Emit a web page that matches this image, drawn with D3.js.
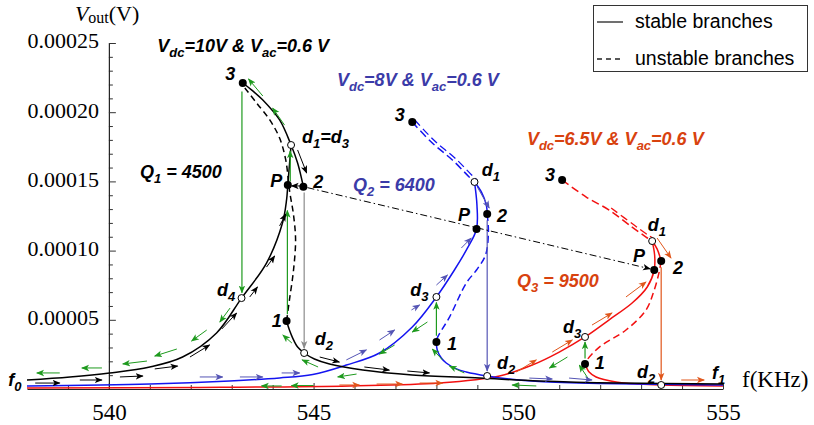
<!DOCTYPE html>
<html><head><meta charset="utf-8">
<script src="https://cdn.jsdelivr.net/npm/d3@7"></script>
<style>body{margin:0;background:#fff}svg{display:block}</style>
</head><body>
<svg id="c" width="814" height="425"></svg>
<script>
// ---------------- DATA (V in units of 1e-5 V, f in kHz) ----------------
const xTicksMajor = [540, 545, 550, 555];
const xTicksMinor = [539, 541, 542, 543, 544, 546, 547, 548, 549, 551, 552, 553, 554];
const yTicksMajor = [5, 10, 15, 20, 25];
const yTicksMinor = [1,2,3,4,6,7,8,9,11,12,13,14,16,17,18,19,21,22,23,24];

// black (Vdc=10V)
const blackRise = [[538.00,0.65],[539.05,0.87],[540.02,1.16],[541.00,1.59],[541.80,2.31],[542.63,4.05],[543.24,6.57],[543.85,9.10],[544.24,11.99],[544.34,13.66],[544.37,14.74],[544.41,16.18],[544.45,17.63]];
const blackStableTop = [[543.27,22.11],[543.49,21.60],[543.76,20.88],[544.17,19.44],[544.45,17.63],[544.61,16.33],[544.75,14.62]];
const blackUnstable = [[543.32,21.75],[543.61,20.66],[543.93,19.44],[544.17,18.13],[544.32,16.55],[544.41,14.38],[544.51,12.57],[544.56,10.77],[544.51,8.60],[544.41,6.43],[544.34,4.91]];
const blackLower = [[544.34,4.91],[544.41,4.26],[544.49,3.68],[544.61,3.03],[544.77,2.60],[545.02,2.17],[545.39,1.81],[546.20,1.37],[547.41,1.01],[549.05,0.79],[550.51,0.58],[552.46,0.43],[555.00,0.36]];
// blue (Vdc=8V)
const blueRise = [[538.00,0.22],[541.00,0.36],[542.95,0.58],[544.17,0.80],[544.98,1.05],[545.80,1.73],[546.61,2.60],[547.41,4.48],[548.00,6.65],[548.44,8.60],[548.76,10.19],[548.98,11.56],[548.99,13.29],[548.93,14.96]];
const blueUnstableTop = [[547.41,19.29],[547.90,17.77],[548.39,16.55],[548.80,15.32],[548.93,14.96]];
const blueStableTop = [[548.93,14.96],[549.10,14.23],[549.22,13.29],[549.24,12.64]];
const blueUnstable = [[549.24,12.64],[549.27,11.34],[549.20,9.68],[548.98,8.60],[548.73,7.66],[548.32,5.20],[548.02,3.68],[548.00,3.40]];
const blueLower = [[548.00,3.40],[548.02,2.82],[548.12,2.24],[548.24,1.88],[548.49,1.45],[548.73,1.23],[549.24,0.94],[549.78,0.72],[550.51,0.54],[551.98,0.40],[555.00,0.29]];
// red (Vdc=6.5V)
const redRise = [[538.00,0.07],[542.22,0.11],[545.88,0.22],[548.07,0.43],[549.54,0.94],[550.34,1.73],[551.00,2.67],[551.63,3.76],[552.22,5.00],[552.78,6.21],[553.15,7.37],[553.32,8.60],[553.33,9.68],[553.27,10.69]];
const redUnstableTop = [[551.07,15.10],[551.66,13.87],[552.22,12.93],[552.78,11.70],[553.12,10.98],[553.27,10.69]];
const redStableTop = [[553.27,10.69],[553.39,10.12],[553.49,9.25]];
const redUnstable = [[553.49,9.25],[553.44,8.45],[553.32,7.15],[553.12,5.71],[552.63,4.26],[551.98,3.03],[551.68,2.10],[551.63,1.81]];
const redLower = [[551.63,1.81],[551.73,1.23],[551.90,0.87],[552.39,0.51],[552.95,0.36],[553.49,0.29],[555.00,0.22]];

// marked points
const filledPoints = [[543.27,22.11],[544.37,14.74],[544.75,14.62],[544.34,4.91],
  [547.41,19.29],[548.98,11.56],[549.24,12.64],[548.00,3.40],
  [551.07,15.10],[553.32,8.60],[553.49,9.25],[551.63,1.81]];
const openPoints = [[544.45,17.63],[543.24,6.57],[544.77,2.60],
  [548.93,14.96],[548.00,6.65],[549.24,0.94],
  [553.27,10.69],[551.63,3.76],[553.49,0.29]];

// jumps: [f, vFrom, vTo]
const jumpsGreen = [[543.25,21.5,6.95],[544.36,5.4,12.9],[544.43,15.0,17.2],[548.00,3.85,6.25],[551.63,2.2,3.4]];
const jumpsGray = [[544.77,14.2,2.95]];
const jumpsBlue = [[549.24,12.2,1.3]];
const jumpsRed = [[553.49,8.8,0.65]];
const pathLine = [[544.85,14.55],[553.22,8.68]];

// sweep arrows [f1,v1,f2,v2]
const arrowsBlack = [[538.20,0.43,538.80,0.43],[539.29,0.65,539.83,0.65],[540.27,0.87,540.83,0.94],[541.12,1.45,541.68,1.66],
  [541.98,2.31,542.46,3.18],[542.76,4.34,543.12,5.49],[543.44,6.65,543.63,7.37],[543.85,8.81,544.05,9.61],[544.17,11.78,544.32,12.64],
  [544.61,17.27,544.83,15.61],[544.68,14.67,544.46,14.67],[545.15,2.31,545.63,1.95],[546.24,1.59,546.85,1.37],[547.29,1.30,547.83,1.16]];
const arrowsGreen = [[538.80,1.16,538.24,1.16],[539.83,1.52,539.34,1.52],[540.93,2.02,540.34,1.81],[541.66,2.89,541.12,2.38],
  [542.39,4.26,542.02,3.47],[542.96,5.85,542.71,4.84],[543.76,21.17,543.41,22.40],[544.29,19.07,544.00,20.30],
  [544.47,3.32,544.25,3.90],[545.11,1.59,544.72,2.10],[544.22,0.22,543.73,0.22],[545.00,0.25,544.46,0.25],[550.44,0.22,549.85,0.29],
  [547.78,4.84,547.41,4.12],[546.98,3.18,546.61,2.53],[546.05,1.08,545.59,0.87],[548.15,2.10,547.90,2.89],[548.68,1.16,548.32,1.66],
  [551.20,2.31,550.76,1.52],[551.73,0.65,551.49,1.73]];
const arrowsBlue = [[542.22,0.87,542.78,0.87],[543.20,0.87,543.76,0.87],[544.22,1.16,544.66,1.16],[545.80,2.10,546.29,2.82],
  [546.61,3.54,546.98,4.26],[547.39,5.71,547.59,6.07],[548.00,7.51,548.27,8.24],[548.61,10.19,548.85,10.91],
  [549.00,14.59,549.29,13.08],[550.27,0.79,550.83,0.72],[551.24,0.79,551.80,0.65]];
const arrowsRed = [[545.63,0.29,546.12,0.29],[546.54,0.36,547.17,0.36],[547.59,0.43,548.15,0.43],[549.95,1.23,550.44,2.10],
  [550.83,2.67,551.32,3.54],[551.80,4.62,552.29,5.49],[552.63,6.65,553.12,7.73],[553.39,10.91,553.73,9.46],[553.98,0.65,554.54,0.65]];

// labels [text, f, v]
const labelsBlack = [["3",542.84,22.33],["d_{1}=d_{3}",544.72,17.77],["P",543.94,14.59],["2",544.99,14.52],["d_{4}",542.64,6.72],
  ["1",543.98,4.48],["d_{2}",545.03,3.18],["f_{0}",537.54,0.22],
  ["3",546.98,19.4],["d_{1}",549.11,15.39],["P",548.53,12.14],["2",549.48,12.07],["d_{3}",547.36,6.72],["1",548.26,2.82],["d_{2}",549.48,1.45],
  ["3",550.65,15.03],["d_{1}",553.16,11.42],["P",552.80,9.18],["2",553.78,8.31],["d_{3}",551.09,4.05],["1",551.87,1.45],["d_{2}",552.90,0.79],["f_{1}",554.73,0.72]];
const titles = [["V_{dc}=10V & V_{ac}=0.6 V",541.18,24.35,"k"],["V_{dc}=8V & V_{ac}=0.6 V",545.57,21.89,"b"],["V_{dc}=6.5V & V_{ac}=0.6 V",550.21,17.63,"r"],
  ["Q_{1} = 4500",540.76,15.24,"k"],["Q_{2} = 6400",545.96,14.31,"b"],["Q_{3} = 9500",549.97,7.37,"r"]];
const legendItems = ["stable branches","unstable branches"];

// ---------------- DRAWING ----------------
const svg = d3.select("#c");
const x = d3.scaleLinear().domain([538, 555]).range([27, 723]);
const y = d3.scaleLinear().domain([0, 25]).range([389, 43]);
const C = {k:"#000", blue:"#1414f0", red:"#f21010", green:"#1e9a1e", gray:"#8c8c8c", slate:"#5555b5", orange:"#e0561b",
  tb:"#3b3ba8", tr:"#d8420f"};
const titleColor = {k:"#000", b:C.tb, r:C.tr};
const fontS = "'Liberation Serif','Times New Roman',Times,serif";
const fontA = "'Liberation Sans',Arial,Helvetica,sans-serif";

const defs = svg.append("defs");
function marker(id, color, size) {
  defs.append("marker").attr("id", id).attr("viewBox", "0 0 10 10").attr("refX", 9).attr("refY", 5)
    .attr("markerUnits", "userSpaceOnUse").attr("markerWidth", size).attr("markerHeight", size).attr("orient", "auto")
    .append("path").attr("d", "M0,1 L10,5 L0,9 L2.5,5 Z").attr("fill", color);
}
marker("mk", C.k, 8); marker("mg", C.green, 8); marker("mgr", C.gray, 8); marker("mb", C.slate, 8); marker("mo", C.orange, 8);

// axes
const gxMinor = svg.append("g").attr("transform", `translate(0,${y(0)})`)
  .call(d3.axisBottom(x).tickValues(xTicksMinor).tickSizeInner(-4).tickSizeOuter(0).tickFormat(""));
gxMinor.select(".domain").remove();
const gx = svg.append("g").attr("transform", `translate(0,${y(0)})`)
  .call(d3.axisBottom(x).tickValues(xTicksMajor).tickSizeInner(-6).tickSizeOuter(0).tickPadding(15));
gx.attr("font-family", null).attr("font-size", null);
gx.selectAll("text").style("font-family", fontS).style("font-size", "23px").attr("fill", "#000");

const gyMinor = svg.append("g").attr("transform", `translate(${x(540)},0)`)
  .call(d3.axisLeft(y).tickValues(yTicksMinor).tickSizeInner(-4).tickSizeOuter(0).tickFormat(""));
gyMinor.select(".domain").remove();
const gy = svg.append("g").attr("transform", `translate(${x(540)},0)`)
  .call(d3.axisLeft(y).tickValues(yTicksMajor).tickSizeInner(-7).tickSizeOuter(0).tickPadding(10)
    .tickFormat(d => d3.format(".5f")(d * 1e-5)));
gy.attr("font-family", null).attr("font-size", null);
gy.selectAll("text").style("font-family", fontS).style("font-size", "22px").attr("fill", "#000").attr("dy", "0.22em");
svg.selectAll(".domain").attr("stroke", "#222").attr("stroke-width", 1.2);
svg.selectAll(".tick line").attr("stroke", "#333");

// axis titles
const yl = svg.append("text").attr("x", x(540) - 34).attr("y", y(25) - 22)
  .style("font-family", fontS).style("font-size", "22px").attr("fill", "#000");
yl.append("tspan").attr("font-style", "italic").text("V");
yl.append("tspan").style("font-size", "16px").attr("dy", 2).text("out");
yl.append("tspan").attr("dy", -2).text("(V)");
svg.append("text").attr("x", x(555) + 19).attr("y", y(0) - 2)
  .style("font-family", fontS).style("font-size", "23px").attr("fill", "#000").text("f(KHz)");

// curves
const line = d3.line().x(d => x(d[0])).y(d => y(d[1])).curve(d3.curveCatmullRom.alpha(0.5));
function curve(data, color, dash, w, tr) {
  svg.append("path").attr("d", line(data)).attr("fill", "none").attr("stroke", color)
    .attr("stroke-width", w || 1.5).attr("stroke-dasharray", dash || null).attr("transform", tr || null);
}
// red
curve(redRise, C.red); curve(redLower, C.red); curve(redStableTop, C.red);
curve(redUnstableTop, C.red, "8,4"); curve(redUnstableTop.slice(2), C.red, "8,4", 1.3, "translate(2,-2)");
curve(redUnstable, C.red, "7,4");
// blue
curve(blueRise, C.blue); curve(blueLower, C.blue); curve(blueStableTop, C.blue);
curve(blueUnstableTop, C.blue, "8,4"); curve(blueUnstableTop, C.blue, "8,4", 1.3, "translate(2.5,-2)");
curve(blueUnstable, C.blue, "7,4");
// black
curve(blackRise, C.k); curve(blackLower, C.k); curve(blackStableTop, C.k);
curve(blackUnstable, C.k, "6,4");

// jumps
function jumps(data, color, mk) {
  data.forEach(d => svg.append("line").attr("x1", x(d[0])).attr("x2", x(d[0])).attr("y1", y(d[1])).attr("y2", y(d[2]))
    .attr("stroke", color).attr("stroke-width", 1.2).attr("marker-end", `url(#${mk})`));
}
jumps(jumpsGreen, C.green, "mg"); jumps(jumpsGray, C.gray, "mgr"); jumps(jumpsBlue, C.slate, "mb"); jumps(jumpsRed, C.orange, "mo");

// dash-dot path line
svg.append("line").attr("x1", x(pathLine[0][0])).attr("y1", y(pathLine[0][1])).attr("x2", x(pathLine[1][0])).attr("y2", y(pathLine[1][1]))
  .attr("stroke", "#000").attr("stroke-width", 1).attr("stroke-dasharray", "7,3,1.5,3").attr("marker-end", "url(#mk)");

// sweep arrows
function arrows(data, color, mk) {
  data.forEach(d => svg.append("line").attr("x1", x(d[0])).attr("y1", y(d[1])).attr("x2", x(d[2])).attr("y2", y(d[3]))
    .attr("stroke", color).attr("stroke-width", 1).attr("marker-end", `url(#${mk})`));
}
arrows(arrowsBlack, C.k, "mk"); arrows(arrowsGreen, C.green, "mg"); arrows(arrowsBlue, C.slate, "mb"); arrows(arrowsRed, C.orange, "mo");

// points
svg.selectAll(".fp").data(filledPoints).join("circle").attr("cx", d => x(d[0])).attr("cy", d => y(d[1])).attr("r", 4).attr("fill", "#000");
svg.selectAll(".op").data(openPoints).join("circle").attr("cx", d => x(d[0])).attr("cy", d => y(d[1])).attr("r", 3.5)
  .attr("fill", "#fff").attr("stroke", "#000").attr("stroke-width", 1);

// rich text helper
function rich(sel, str, size) {
  const parts = str.split(/_\{([^}]*)\}/);
  let sub = false; const shift = Math.round(size * 0.28);
  parts.forEach((p, i) => {
    const isSub = i % 2 === 1;
    if (p === "") { return; }
    const t = sel.append("tspan").text(p);
    if (isSub) { t.style("font-size", Math.round(size * 0.72) + "px").attr("dy", sub ? 0 : shift); sub = true; }
    else { t.attr("dy", sub ? -shift : 0); sub = false; }
  });
}
labelsBlack.forEach(d => {
  const t = svg.append("text").attr("x", x(d[1])).attr("y", y(d[2])).style("font-family", fontA)
    .attr("font-weight", "bold").attr("font-style", "italic").style("font-size", "18px").attr("fill", "#000");
  rich(t, d[0], 18);
});
titles.forEach(d => {
  const t = svg.append("text").attr("x", x(d[1])).attr("y", y(d[2])).style("font-family", fontA)
    .attr("font-weight", "bold").attr("font-style", "italic").style("font-size", "18px").attr("fill", titleColor[d[3]]);
  rich(t, d[0], 18);
});

// legend
const lg = svg.append("g");
lg.append("rect").attr("x", 593.5).attr("y", 5.5).attr("width", 214).attr("height", 66).attr("fill", "#fff").attr("stroke", "#333").attr("stroke-width", 1);
legendItems.forEach((s, i) => {
  const yy = 22 + i * 37;
  lg.append("line").attr("x1", 597).attr("x2", 623).attr("y1", yy).attr("y2", yy).attr("stroke", "#222").attr("stroke-width", 1.3)
    .attr("stroke-dasharray", i ? "5,4" : null);
  lg.append("text").attr("x", 635).attr("y", yy + 6).style("font-family", fontA).style("font-size", "19.5px").attr("fill", "#000").text(s);
});
</script>
</body></html>
